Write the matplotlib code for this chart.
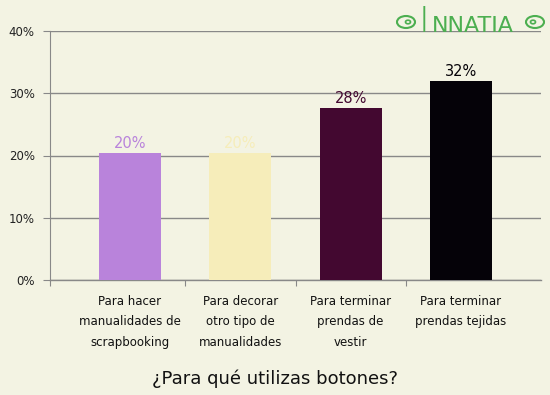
import matplotlib
matplotlib.use("Agg")
import matplotlib.pyplot as plt
from matplotlib.ticker import FixedLocator
from matplotlib.patches import Ellipse, Circle

categories = ["Para hacer\nmanualidades de\nscrapbooking",
              "Para decorar\notro tipo de\nmanualidades",
              "Para terminar\nprendas de\nvestir",
              "Para terminar\nprendas tejidas"]
values = [20.4, 20.4, 27.6, 32.0]
labels = ["20%", "20%", "28%", "32%"]
colors = ["#B983DB", "#F6EDBA", "#430830", "#050208"]
yticks = [0, 10, 20, 30, 40]
title = "¿Para qué utilizas botones?"

W, H = 550, 395
bg = "#F3F3E3"
fig = plt.figure(figsize=(5.5, 3.95), dpi=100, facecolor=bg)
ax = fig.add_axes([50/W, 1-280/H, 491/W, 249/H], facecolor=bg)

x = list(range(len(categories)))
ax.bar(x, values, width=0.56, color=colors, zorder=3)
for xi, v, lab, c in zip(x, values, labels, colors):
    ax.text(xi, v + 0.3, lab, ha="center", va="bottom", color=c, fontsize=10.5, zorder=4)

ax.set_xlim(-0.725, 3.725)
ax.set_ylim(0, 40)
ax.set_yticks(yticks)
ax.set_yticklabels([f"{t}%" for t in yticks], fontsize=8.5)
ax.yaxis.grid(True, color="#888888", linewidth=1, zorder=0)
ax.axhline(0, color="#888888", linewidth=1, zorder=2, clip_on=False)
for s in ["top", "right", "bottom"]:
    ax.spines[s].set_visible(False)
ax.spines["left"].set_color("#888888")
ax.tick_params(axis="y", length=5, color="#888888", pad=6, labelcolor="#222222")

ax.xaxis.set_major_locator(FixedLocator([-0.725, 0.5, 1.5, 2.5]))
ax.set_xticklabels([])
ax.tick_params(axis="x", length=4, color="#888888")
for xi, cat in zip(x, categories):
    ax.text(xi, -2.4, cat, ha="center", va="top", fontsize=8.5, color="#111111",
            linespacing=1.75)

fig.text(0.5, 1-379/H, title, ha="center", va="center", fontsize=13, color="#111111")

# logo
green = "#4CAF50"
fig.text(419/W, 1-32/H, "I", ha="left", va="baseline", fontsize=26,
         color=green, fontweight="light")
fig.text(432/W, 1-32/H, "NNATIA", ha="left", va="baseline", fontsize=16,
         color=green)
for cx, flip in [(406, 1), (535, -1)]:
    fig.add_artist(Ellipse((cx/W, 1-22/H), 18/W, 12/H, transform=fig.transFigure,
                           fill=False, edgecolor=green, linewidth=1.5))
    fig.add_artist(Circle(((cx + flip*2)/W, 1-22/H), 2.5/W, transform=fig.transFigure,
                          fill=False, edgecolor=green, linewidth=1.2))

fig.savefig("out.png", dpi=100, facecolor=bg)
